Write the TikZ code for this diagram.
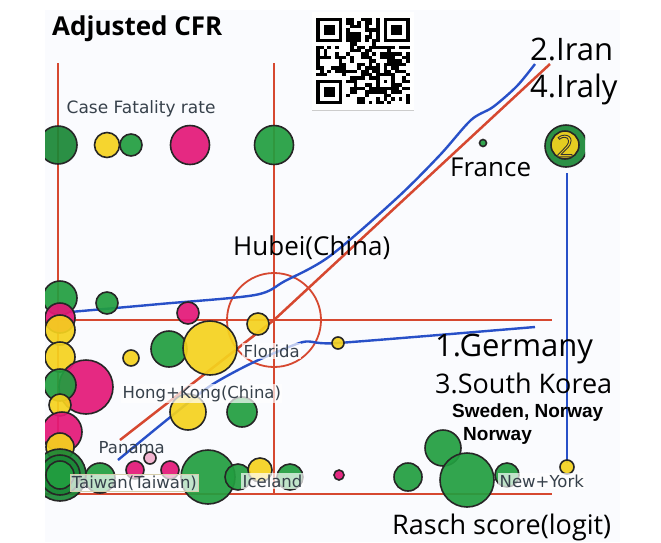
\documentclass[tikz,border=0pt]{standalone}
\usepackage{fontspec}
\setmainfont{Open Sans}
\newfontfamily\verdfont{DejaVu Sans}
\newfontfamily\arialfont{Liberation Sans}

\definecolor{redline}{RGB}{214,72,48}
\definecolor{blueline}{RGB}{40,80,200}
\definecolor{gr}{RGB}{34,158,64}
\definecolor{dg}{RGB}{26,135,54}
\definecolor{ye}{RGB}{245,210,30}
\definecolor{mg}{RGB}{228,24,120}
\definecolor{pk}{RGB}{242,175,205}
\definecolor{panel}{RGB}{250,251,254}
\definecolor{lblgray}{RGB}{55,65,75}
\definecolor{boxline}{RGB}{214,206,170}

\begin{document}
\begin{tikzpicture}[x=1pt, y=-1pt,
    redln/.style={redline, line width=2.5pt},
    blueln/.style={blueline, line width=2.4pt, line join=round},
    bub/.style={draw=black!85, line width=1.6pt, fill opacity=0.92},
    lbl/.style={font=\verdfont\fontsize{16.5}{18}\selectfont, text=lblgray, fill=white,
        fill opacity=0.7, text opacity=1, inner sep=1.5pt, anchor=base west},
    big/.style={font=\fontsize{31}{34}\selectfont, inner sep=0pt, anchor=base west},
    mid/.style={font=\fontsize{27}{30}\selectfont, inner sep=0pt, anchor=base west},
    heavy/.style={font=\arialfont\bfseries\fontsize{19}{21}\selectfont, inner sep=0pt, anchor=base west}]
    \useasboundingbox (0,0) rectangle (661,542);
    % Panel
    \fill[panel] (45,10) rectangle (620,542);

    % QR code
    \fill[white] (312,12) rectangle (414,110);
    \draw[gray!40, line width=1pt] (312,110) -- (414,110);
    \begin{scope}[shift={(316,18)}, x=3.76pt, y=-3.44pt]
        \pgfmathsetseed{4242}
        \foreach \i in {0,...,24}
            \foreach \j in {0,...,24} {
                \pgfmathtruncatemacro\qrzone{(\i<8 && \j<8) || (\i>16 && \j<8) || (\i<8 && \j>16)}
                \pgfmathtruncatemacro\qrbit{rnd<0.55 ? 1 : 0}
                \ifnum\qrzone=0 \ifnum\qrbit=1 \fill (\i,\j) rectangle ++(1,1); \fi\fi
            }
        \foreach \p in {(0,0),(18,0),(0,18)} {
            \fill \p rectangle ++(7,7);
            \fill[white] \p ++(1,1) rectangle ++(5,5);
            \fill \p ++(2,2) rectangle ++(3,3);
        }
        \fill (16,16) rectangle ++(5,5);
        \fill[white] (17,17) rectangle ++(3,3);
        \fill (18,18) rectangle ++(1,1);
    \end{scope}

    % Red frame lines
    \draw[redln] (58,63) -- (58,494);
    \draw[redln] (274,63) -- (274,494);
    \draw[redln] (45,320) -- (552,320);
    \draw[redln] (45,494) -- (552,494);
    \draw[redln] (120,440) -- (274,320) -- (550,64);
    \draw[redline, line width=1.8pt] (274,320) circle (47);

    % Blue lines
    \draw[blueln] plot[smooth, tension=0.5] coordinates {(70,312) (160,304) (255,295) (285,281) (330,256) (397,198) (440,155) (471,120) (493,107) (517,86) (535,64)};
    \draw[blueln] plot[smooth, tension=0.4] coordinates {(118,460) (163,423) (210,386) (252,363) (303,342) (338,343) (535,327)};
    \draw[blueln] (567,173) -- (567,463);

    % Bubbles
    \begin{scope}
        \clip (45,10) rectangle (585,542);
        \foreach \x/\y/\r/\c in {58/145/19/dg, 107/145/12.5/ye, 131/145/11/gr, 190/145/19.5/mg, 274/145/19.5/gr,
                60/298/17/gr, 107/303/11/gr, 60/318/15/mg, 60/330/15/ye, 60/357/15/ye,
                86/387/27/mg, 60/385/16/gr, 60/405/11/ye, 62/432/20/mg, 60/447/14/ye,
                188/313/11/mg, 258/324/11/ye, 169/349/18/gr, 210/348/27/ye, 131/358/8/ye,
                188/412/18/ye, 242/412/15/gr,
                100/478/15/gr, 135/470/9/mg, 170/470/9/mg, 150/458/6/pk,
                60/475/26/dg, 60/475/20/dg, 60/475/14/gr,
                208/477/27/gr, 238/477/13/gr, 260/470/12/ye, 290/477/13/gr,
                338/343/6/ye, 339/475/5/mg, 483/143/3.5/gr,
                408/477/14/gr, 443/448/18/gr, 507/475/12/gr, 567/467/7/ye, 467/480/27/gr,
                566/146/21/dg, 565/145/14/ye}
            \draw[bub, fill=\c] (\x,\y) circle (\r);

        % Place labels
        \node[lbl, fill=none] (cfr) at (65,113) {\fontsize{17}{19}\selectfont Case Fatality rate};
        \node[lbl] (florida) at (242,357) {Florida};
        \node[lbl] (hongkong) at (121,398) {Hong+Kong(China)};
        \node[lbl, fill=none] (panama) at (97,453) {Panama};
        \node[lbl, draw=boxline, draw opacity=1, line width=0.6pt] (taiwan) at (70,488) {Taiwan(Taiwan)};
        \node[lbl] (iceland) at (241,487) {Iceland};
        \node[lbl] (newyork) at (498,487) {New+York};
    \end{scope}

    % Titles and country labels
    \node[font=\bfseries\fontsize{26}{28}\selectfont, inner sep=0pt, anchor=base west] (title) at (52,35) {Adjusted CFR};
    \node[big] (iran) at (530,60) {2.Iran};
    \node[big] (italy) at (530,97) {4.Iraly};
    \node[mid, font=\fontsize{26}{28}\selectfont] (france) at (450,176) {France};
    \node[mid, font=\fontsize{26}{28}\selectfont] (hubei) at (233,255) {Hubei(China)};
    \node[big] (germany) at (435,356) {1.Germany};
    \node[mid] (korea) at (435,393) {3.South Korea};
    \node[heavy] (sweden) at (452,417) {Sweden, Norway};
    \node[heavy] (norway) at (463,440) {Norway};
    \node[mid] (rasch) at (392,534) {Rasch score(logit)};
    \node (two) at (565,146) {\fontsize{30}{30}\selectfont\color{ye}\special{pdf:literal direct 2 Tr 0.9 w 0.2 0.2 0.2 RG}2\special{pdf:literal direct 0 Tr 0.4 w}};
\end{tikzpicture}
\end{document}
